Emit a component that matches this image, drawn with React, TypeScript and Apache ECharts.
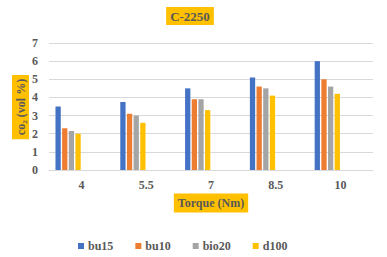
import React, { useEffect, useRef } from "react";
import * as echarts from "echarts";

const categories = ["4", "5.5", "7", "8.5", "10"];
const seriesNames = ["bu15", "bu10", "bio20", "d100"];
const bu15 = [3.5, 3.75, 4.5, 5.1, 6.0];
const bu10 = [2.3, 3.1, 3.9, 4.6, 5.0];
const bio20 = [2.15, 3.0, 3.9, 4.5, 4.6];
const d100 = [2.0, 2.6, 3.3, 4.1, 4.2];
const colors = ["#4472C4", "#ED7D31", "#A5A5A5", "#FFC000"];

const FONT = "'Liberation Serif', 'Times New Roman', serif";

export default function App() {
  const ref = useRef<HTMLDivElement>(null);
  useEffect(() => {
    document.body.style.margin = "0";
    const chart = echarts.init(ref.current!, null, { renderer: "svg" });
    const values = [bu15, bu10, bio20, d100];
    const real = seriesNames.map((name, i) => ({
      name,
      type: "bar",
      data: values[i],
      itemStyle: { color: colors[i] },
      barGap: "26%",
      barCategoryGap: "20%",
    }));
    const empty = [0, 1, 2, 3].map((i) => ({
      name: "_e" + i,
      type: "bar",
      data: [] as number[],
      barGap: "26%",
      barCategoryGap: "20%",
    }));
    chart.setOption({
      animation: false,
      textStyle: { fontFamily: FONT },
      grid: { left: 49, right: 14, top: 43, bottom: 87 },
      xAxis: {
        type: "category",
        data: categories,
        axisLine: { show: true, lineStyle: { color: "#d9d9d9" } },
        axisTick: { show: false },
        axisLabel: { color: "#595959", fontSize: 12, fontWeight: "bold", fontFamily: FONT, margin: 9 },
      },
      yAxis: {
        type: "value",
        min: 0,
        max: 7,
        interval: 1,
        axisLine: { show: false },
        axisTick: { show: false },
        splitLine: { lineStyle: { color: "#d9d9d9" } },
        axisLabel: { color: "#595959", fontSize: 12, fontWeight: "bold", fontFamily: FONT, margin: 11 },
      },
      legend: {
        data: seriesNames,
        left: 73,
        top: 235,
        icon: "rect",
        itemWidth: 6,
        itemHeight: 6,
        itemGap: 22,
        textStyle: { color: "#595959", fontSize: 12, fontWeight: "bold", fontFamily: FONT, padding: [0, 0, 0, -1] },
      },
      graphic: [
        {
          type: "text",
          x: 190,
          y: 16,
          style: {
            text: "C-2250",
            align: "center",
            verticalAlign: "middle",
            fill: "#595959",
            font: "bold 13px " + FONT,
            backgroundColor: "#FFC000",
            padding: [3, 4, 2, 4],
          },
        },
        {
          type: "text",
          x: 20.5,
          y: 107,
          rotation: Math.PI / 2,
          style: {
            text: "co\u2082 (vol %)",
            align: "center",
            verticalAlign: "middle",
            fill: "#595959",
            font: "bold 12px " + FONT,
            backgroundColor: "#FFC000",
            padding: [3, 4, 2, 4],
          },
        },
        {
          type: "text",
          x: 211,
          y: 203,
          style: {
            text: "Torque (Nm)",
            align: "center",
            verticalAlign: "middle",
            fill: "#595959",
            font: "bold 12px " + FONT,
            backgroundColor: "#FFC000",
            padding: [4, 4, 3, 4],
          },
        },
      ],
      series: [...real, ...empty],
    });
    return () => chart.dispose();
  }, []);
  return <div ref={ref} style={{ width: 387, height: 257 }} />;
}
